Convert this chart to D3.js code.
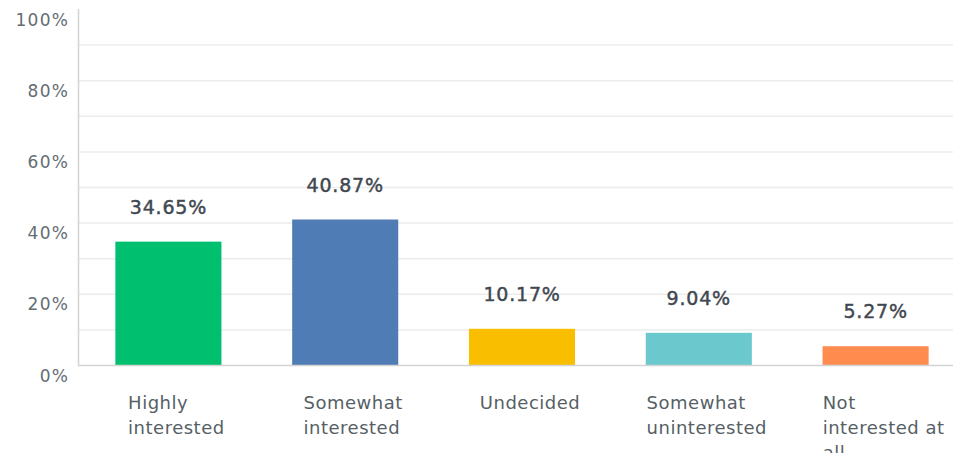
<!DOCTYPE html>
<html>
<head>
<meta charset="utf-8">
<script src="https://cdn.jsdelivr.net/npm/d3@7"></script>
<style>
  html, body { margin: 0; padding: 0; background: #fff; overflow: hidden; }
  svg { display: block; }
</style>
</head>
<body>
<svg id="chart" width="953" height="453"></svg>
<script>
// Survey responses: interest level
const categories = [
  ["Highly", "interested"],
  ["Somewhat", "interested"],
  ["Undecided"],
  ["Somewhat", "uninterested"],
  ["Not", "interested at", "all"]
];
const values = [34.65, 40.87, 10.17, 9.04, 5.27];
const colors = ["#00bf6f", "#507cb6", "#f9be00", "#6bc8cd", "#ff8b4f"];
const tickValues = [0, 20, 40, 60, 80, 100];
const gridValues = [10, 20, 30, 40, 50, 60, 70, 80, 90];

const svg = d3.select("#chart");
const W = 953;
const plotLeft = 78, plotTop = 9, plotBottom = 365;
const FONT = "'DejaVu Sans', Verdana, sans-serif";

const x = d3.scaleBand()
  .domain(d3.range(values.length))
  .range([80, 964])
  .paddingInner(0.4)
  .paddingOuter(0.2);

const y = d3.scaleLinear().domain([0, 100]).range([plotBottom, plotTop]);

// Horizontal gridlines
svg.append("g")
  .selectAll("line")
  .data(gridValues)
  .join("line")
  .attr("x1", plotLeft).attr("x2", W)
  .attr("y1", d => y(d) + 0.5).attr("y2", d => y(d) + 0.5)
  .attr("stroke", "#ececec").attr("stroke-width", 1.5);

// Bars
svg.append("g")
  .selectAll("rect")
  .data(values)
  .join("rect")
  .attr("x", (d, i) => x(i))
  .attr("width", x.bandwidth())
  .attr("y", d => y(d))
  .attr("height", d => y(0) - y(d))
  .attr("fill", (d, i) => colors[i]);

// Axis lines
svg.append("line")
  .attr("x1", plotLeft + 0.5).attr("x2", plotLeft + 0.5)
  .attr("y1", plotTop).attr("y2", plotBottom + 1)
  .attr("stroke", "#d3d3d3").attr("stroke-width", 1.5);
svg.append("line")
  .attr("x1", plotLeft).attr("x2", W)
  .attr("y1", plotBottom + 0.5).attr("y2", plotBottom + 0.5)
  .attr("stroke", "#d3d3d3").attr("stroke-width", 1.5);

// Y tick labels
svg.append("g")
  .selectAll("text")
  .data(tickValues)
  .join("text")
  .attr("x", 69)
  .attr("y", d => y(d) + 16.5)
  .attr("text-anchor", "end")
  .attr("font-family", FONT)
  .attr("font-size", 17)
  .attr("letter-spacing", 1.2)
  .attr("fill", "#646d73")
  .text(d => d + "%");

// Value labels above bars
svg.append("g")
  .selectAll("text")
  .data(values)
  .join("text")
  .attr("x", (d, i) => x(i) + x.bandwidth() / 2)
  .attr("y", d => y(d) - 28)
  .attr("text-anchor", "middle")
  .attr("font-family", FONT)
  .attr("font-size", 19)
  .attr("letter-spacing", 0.8)
  .attr("fill", "#3f4850")
  .attr("stroke", "#3f4850")
  .attr("stroke-width", 0.45)
  .text(d => d.toFixed(2) + "%");

// Category labels, wrapped onto lines, block roughly centred under each bar
const cat = svg.append("g")
  .selectAll("text")
  .data(categories)
  .join("text")
  .attr("y", 409)
  .attr("font-family", FONT)
  .attr("font-size", 18)
  .attr("letter-spacing", 0.5)
  .attr("fill", "#565f66");
cat.selectAll("tspan")
  .data(d => d)
  .join("tspan")
  .attr("dy", (d, j) => j === 0 ? 0 : 25)
  .text(d => d);
cat.each(function (d, i) {
  const spans = d3.select(this).selectAll("tspan").nodes();
  const maxW = d3.max(spans, s => s.getComputedTextLength());
  const left = x(i) + x.bandwidth() / 2 - maxW / 2 + 8;
  d3.select(this).selectAll("tspan").attr("x", left);
});
</script>
</body>
</html>
